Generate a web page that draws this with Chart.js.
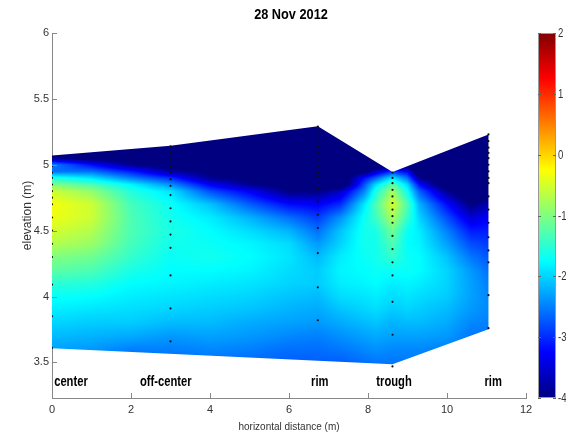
<!DOCTYPE html>
<html>
<head>
<meta charset="utf-8">
<script src="https://cdn.jsdelivr.net/npm/chart.js@4.4.1/dist/chart.umd.min.js"></script>
<style>
    html, body { margin: 0; padding: 0; background: #fff; }
    canvas { display: block; }
</style>
</head>
<body>
<canvas id="sectionChart" width="566" height="436"></canvas>
<script>
// Outline of the measured section (horizontal distance m, elevation m)
const outlineX = [0, 3, 6.73, 8.62, 11.05, 11.05, 8.62, 0];
const outlineY = [5.07, 5.144, 5.293, 4.945, 5.23, 3.752, 3.487, 3.608];

// Sensor elevations along each profile
const sensorX = [0, 3, 6.73, 8.62, 11.05];
const centerSensors = [5.04, 4.99, 4.94, 4.90, 4.85, 4.80, 4.75, 4.70, 4.60, 4.50, 4.40, 4.30, 4.09, 3.85, 3.61];
const offCenterSensors = [5.14, 5.09, 5.04, 4.99, 4.94, 4.89, 4.84, 4.77, 4.67, 4.57, 4.47, 4.37, 4.16, 3.91, 3.66];
const rimSensors = [5.29, 5.24, 5.19, 5.14, 5.09, 5.04, 4.99, 4.94, 4.91, 4.82, 4.72, 4.62, 4.52, 4.33, 4.07, 3.82];
const troughSensors = [4.94, 4.90, 4.86, 4.81, 4.76, 4.71, 4.66, 4.61, 4.56, 4.46, 4.36, 4.26, 4.16, 3.96, 3.71, 3.47];
const outerRimSensors = [5.23, 5.18, 5.13, 5.09, 5.05, 5.00, 4.95, 4.90, 4.86, 4.76, 4.66, 4.56, 4.45, 4.35, 4.26, 4.01, 3.76];

// Field values: one column per gridX, rows follow gridY
const gridX = [0, 1, 2, 3, 4, 5, 6, 6.73, 7.3, 7.9, 8.2, 8.62, 9.0, 9.3, 10, 10.6, 11.05];
const gridY = [5.3, 5.25, 5.2, 5.15, 5.1, 5.05, 5.0, 4.95, 4.9, 4.85, 4.8, 4.7, 4.6, 4.5, 4.4, 4.3, 4.2, 4.1, 4.0, 3.9, 3.8, 3.7, 3.6, 3.5, 3.4];
const gridValues = [
    [-4.5, -4.5, -4.5, -4.5, -4.5, -3.8, -2.5, -2.6, -1.6, -1.0, -0.55, -0.3, -0.35, -0.5, -0.7, -1.0, -1.2, -1.5, -1.7, -1.85, -2.0, -2.15, -2.3, -2.45, -2.55],
    [-4.5, -4.5, -4.5, -4.5, -4.4, -4.2, -3.2, -2.6, -1.9, -1.3, -0.9, -0.55, -0.55, -0.7, -0.85, -1.1, -1.3, -1.55, -1.75, -1.9, -2.05, -2.2, -2.35, -2.5, -2.6],
    [-4.5, -4.5, -4.5, -4.5, -4.3, -4.2, -3.9, -3.1, -2.5, -1.8, -1.55, -1.35, -1.3, -1.3, -1.35, -1.45, -1.6, -1.75, -1.85, -1.95, -2.05, -2.25, -2.5, -2.65, -2.75],
    [-4.5, -4.5, -4.5, -4.5, -4.4, -4.3, -4.2, -3.8, -3.0, -2.4, -1.9, -1.7, -1.65, -1.6, -1.65, -1.7, -1.75, -1.8, -1.9, -2.0, -2.15, -2.35, -2.5, -2.65, -2.75],
    [-4.5, -4.5, -4.5, -4.5, -4.4, -4.3, -4.2, -4.1, -3.9, -3.3, -2.8, -2.1, -1.85, -1.75, -1.7, -1.65, -1.75, -1.85, -1.95, -2.05, -2.15, -2.3, -2.45, -2.6, -2.7],
    [-4.5, -4.5, -4.5, -4.5, -4.5, -4.4, -4.3, -4.2, -4.1, -3.9, -3.3, -2.7, -2.2, -1.95, -1.8, -1.75, -1.8, -1.9, -2.0, -2.1, -2.25, -2.35, -2.5, -2.65, -2.75],
    [-4.5, -4.5, -4.5, -4.5, -4.5, -4.5, -4.5, -4.4, -4.3, -4.2, -4.0, -3.2, -2.6, -2.2, -1.95, -1.9, -1.95, -2.0, -2.1, -2.2, -2.3, -2.45, -2.6, -2.7, -2.8],
    [-4.5, -4.5, -4.5, -4.5, -4.5, -4.5, -4.5, -4.5, -4.5, -4.5, -4.0, -3.3, -2.9, -2.6, -2.35, -2.15, -2.05, -2.05, -2.15, -2.25, -2.35, -2.5, -2.6, -2.7, -2.8],
    [-4.5, -4.5, -4.5, -4.5, -4.5, -4.5, -4.5, -4.5, -4.5, -4.5, -3.6, -3.0, -2.4, -2.1, -2.0, -1.85, -1.8, -1.85, -1.95, -2.1, -2.25, -2.4, -2.55, -2.7, -2.8],
    [-4.5, -4.5, -4.5, -4.5, -4.5, -4.5, -4.5, -4.2, -3.2, -2.8, -2.5, -1.9, -1.7, -1.65, -1.65, -1.7, -1.75, -1.8, -1.9, -2.0, -2.15, -2.3, -2.45, -2.6, -2.7],
    [-4.5, -4.5, -4.5, -4.5, -4.5, -4.5, -4.5, -3.6, -2.7, -1.95, -1.6, -1.3, -1.4, -1.6, -1.65, -1.65, -1.7, -1.75, -1.85, -1.95, -2.1, -2.25, -2.4, -2.55, -2.65],
    [-4.5, -4.5, -4.5, -4.5, -4.5, -4.5, -4.5, -3.0, -1.9, -1.2, -0.8, -0.5, -0.75, -1.1, -1.3, -1.45, -1.7, -1.85, -1.95, -2.05, -2.2, -2.3, -2.45, -2.55, -2.6],
    [-4.5, -4.5, -4.5, -4.5, -4.5, -4.5, -4.5, -3.3, -2.6, -2.0, -1.7, -1.3, -1.45, -1.7, -1.75, -1.7, -1.7, -1.8, -1.9, -2.0, -2.15, -2.3, -2.45, -2.55, -2.65],
    [-4.5, -4.5, -4.5, -4.5, -4.5, -4.5, -4.5, -4.5, -3.9, -3.2, -2.7, -2.2, -2.0, -1.85, -1.8, -1.75, -1.75, -1.85, -1.95, -2.05, -2.15, -2.3, -2.45, -2.55, -2.65],
    [-4.5, -4.5, -4.5, -4.5, -4.5, -4.5, -4.5, -4.5, -4.5, -4.5, -3.9, -3.2, -2.8, -2.5, -2.3, -2.1, -2.0, -2.0, -2.05, -2.15, -2.25, -2.35, -2.5, -2.6, -2.7],
    [-4.5, -4.5, -4.5, -4.5, -4.5, -4.5, -4.5, -4.5, -4.5, -4.5, -4.5, -4.0, -3.5, -3.1, -2.8, -2.55, -2.35, -2.3, -2.3, -2.35, -2.45, -2.55, -2.65, -2.75, -2.8],
    [-4.5, -4.5, -4.5, -4.5, -4.5, -4.5, -4.5, -4.5, -4.5, -4.5, -4.5, -3.7, -3.3, -3.1, -2.9, -2.75, -2.6, -2.5, -2.45, -2.45, -2.5, -2.55, -2.6, -2.7, -2.8]
];

// Site labels along the bottom
const siteNames = ['center', 'off-center', 'rim', 'trough', 'rim'];
const siteX = [0.48, 2.88, 6.78, 8.66, 11.17];
const siteLabelY = 3.35;

// Axis and colour bar ticks
const xTicks = [0, 2, 4, 6, 8, 10, 12];
const yTicks = [3.5, 4, 4.5, 5, 5.5, 6];
const colorTicks = [-4, -3, -2, -1, 0, 1, 2];
const colorMin = -4;
const colorMax = 2;

const labelFont = "'Liberation Sans', Arial, sans-serif";

function clamp01(v) {
    return Math.max(0, Math.min(1, v));
}

// MATLAB style jet colormap
function jet(value) {
    const t = clamp01((value - colorMin) / (colorMax - colorMin));
    return [
        Math.round(255 * clamp01(1.5 - Math.abs(4 * t - 3))),
        Math.round(255 * clamp01(1.5 - Math.abs(4 * t - 2))),
        Math.round(255 * clamp01(1.5 - Math.abs(4 * t - 1)))
    ];
}

function sampleField(xv, yv) {
    let i = 0;
    while (i < gridX.length - 2 && xv > gridX[i + 1]) i++;
    let j = 0;
    while (j < gridY.length - 2 && yv < gridY[j + 1]) j++;
    const t = clamp01((xv - gridX[i]) / (gridX[i + 1] - gridX[i]));
    const s = clamp01((gridY[j] - yv) / (gridY[j] - gridY[j + 1]));
    const a = gridValues[i][j], b = gridValues[i + 1][j];
    const c = gridValues[i][j + 1], d = gridValues[i + 1][j + 1];
    return (1 - t) * (1 - s) * a + t * (1 - s) * b + (1 - t) * s * c + t * s * d;
}

// text squeezed horizontally like the original figure
function narrowText(ctx, text, px, py, squeeze) {
    ctx.save();
    ctx.translate(px, py);
    ctx.scale(squeeze, 1);
    ctx.fillText(text, 0, 0);
    ctx.restore();
}

const fieldPlugin = {
    id: 'field',
    beforeDatasetsDraw(chart) {
        const {ctx, chartArea: area, scales: {x, y}} = chart;
        const w = Math.round(area.right - area.left);
        const h = Math.round(area.bottom - area.top);
        const off = document.createElement('canvas');
        off.width = w;
        off.height = h;
        const offCtx = off.getContext('2d');
        const img = offCtx.createImageData(w, h);
        for (let py = 0; py < h; py++) {
            const elev = y.getValueForPixel(area.top + py + 0.5);
            for (let px = 0; px < w; px++) {
                const dist = x.getValueForPixel(area.left + px + 0.5);
                const col = jet(sampleField(dist, elev));
                const k = (py * w + px) * 4;
                img.data[k] = col[0];
                img.data[k + 1] = col[1];
                img.data[k + 2] = col[2];
                img.data[k + 3] = 255;
            }
        }
        offCtx.putImageData(img, 0, 0);

        ctx.save();
        ctx.beginPath();
        outlineX.forEach((v, i) => {
            const px = x.getPixelForValue(v);
            const py = y.getPixelForValue(outlineY[i]);
            if (i === 0) ctx.moveTo(px, py); else ctx.lineTo(px, py);
        });
        ctx.closePath();
        ctx.clip();
        ctx.drawImage(off, area.left, area.top);
        ctx.restore();
    }
};

const decorPlugin = {
    id: 'decor',
    afterDraw(chart) {
        const {ctx, chartArea: area, scales: {x, y}} = chart;
        ctx.save();

        // inward tick marks
        ctx.strokeStyle = '#888';
        ctx.lineWidth = 1;
        ctx.beginPath();
        xTicks.forEach(v => {
            const px = Math.round(x.getPixelForValue(v)) + 0.5;
            ctx.moveTo(px, area.bottom);
            ctx.lineTo(px, area.bottom - 5);
        });
        yTicks.forEach(v => {
            const py = Math.round(y.getPixelForValue(v)) + 0.5;
            ctx.moveTo(area.left, py);
            ctx.lineTo(area.left + 5, py);
        });
        ctx.stroke();

        // site labels
        ctx.fillStyle = '#000';
        ctx.font = 'bold 14px ' + labelFont;
        ctx.textAlign = 'center';
        ctx.textBaseline = 'middle';
        siteNames.forEach((name, i) => {
            narrowText(ctx, name, x.getPixelForValue(siteX[i]), y.getPixelForValue(siteLabelY), 0.8);
        });

        // title
        ctx.font = 'bold 15px ' + labelFont;
        narrowText(ctx, '28 Nov 2012', 291, 15, 0.85);

        // colour bar
        const barLeft = area.right + 12;
        const barWidth = 18;
        const barTop = area.top;
        const barBottom = area.bottom;
        for (let py = Math.floor(barTop); py < barBottom; py++) {
            const v = colorMax - (py + 0.5 - barTop) / (barBottom - barTop) * (colorMax - colorMin);
            const col = jet(v);
            ctx.fillStyle = `rgb(${col[0]}, ${col[1]}, ${col[2]})`;
            ctx.fillRect(barLeft, py, barWidth, 1);
        }
        ctx.strokeStyle = '#999';
        ctx.strokeRect(barLeft + 0.5, barTop + 0.5, barWidth - 1, barBottom - barTop - 1);
        ctx.fillStyle = '#333';
        ctx.font = '12px ' + labelFont;
        ctx.textAlign = 'left';
        ctx.beginPath();
        colorTicks.forEach(v => {
            const py = Math.round(barBottom - (v - colorMin) / (colorMax - colorMin) * (barBottom - barTop)) + 0.5;
            ctx.moveTo(barLeft, py);
            ctx.lineTo(barLeft + 3, py);
            ctx.moveTo(barLeft + barWidth, py);
            ctx.lineTo(barLeft + barWidth - 3, py);
            narrowText(ctx, String(v), barLeft + barWidth + 2, py, 0.8);
        });
        ctx.strokeStyle = '#666';
        ctx.stroke();

        ctx.restore();
    }
};

function sensorPoints(xv, elevations) {
    return elevations.map(e => ({x: xv, y: e}));
}

const sensorSets = [centerSensors, offCenterSensors, rimSensors, troughSensors, outerRimSensors];

const ctx = document.getElementById('sectionChart').getContext('2d');
const sectionChart = new Chart(ctx, {
    type: 'scatter',
    data: {
        datasets: sensorSets.map((set, i) => ({
            data: sensorPoints(sensorX[i], set),
            backgroundColor: '#111',
            borderWidth: 0,
            pointRadius: 1.1,
            pointHoverRadius: 1.1
        }))
    },
    options: {
        responsive: false,
        animation: false,
        events: [],
        layout: {
            padding: {top: 33, right: 40, left: 0, bottom: 0}
        },
        plugins: {
            legend: {display: false},
            tooltip: {enabled: false}
        },
        scales: {
            x: {
                type: 'linear',
                min: 0,
                max: 12,
                z: 1,
                afterBuildTicks: scale => { scale.ticks = xTicks.map(v => ({value: v})); },
                afterFit: scale => { scale.height = 38; },
                ticks: {
                    color: '#333',
                    padding: 5,
                    font: {size: 11, family: labelFont},
                    callback: v => String(v)
                },
                grid: {drawOnChartArea: false, drawTicks: false},
                border: {display: true, color: '#888'},
                title: {
                    display: true,
                    text: 'horizontal distance (m)',
                    color: '#333',
                    font: {size: 10, family: labelFont},
                    padding: {top: 0, bottom: 3}
                }
            },
            y: {
                type: 'linear',
                min: 3.23,
                max: 6,
                z: 1,
                afterBuildTicks: scale => { scale.ticks = yTicks.map(v => ({value: v})); },
                afterFit: scale => { scale.width = 52; },
                ticks: {
                    color: '#333',
                    padding: 3,
                    font: {size: 11, family: labelFont},
                    callback: v => String(v)
                },
                grid: {drawOnChartArea: false, drawTicks: false},
                border: {display: true, color: '#888'},
                title: {
                    display: true,
                    text: 'elevation (m)',
                    color: '#333',
                    font: {size: 12, family: labelFont},
                    padding: {top: 20, bottom: 0}
                }
            }
        }
    },
    plugins: [fieldPlugin, decorPlugin]
});
</script>
</body>
</html>
